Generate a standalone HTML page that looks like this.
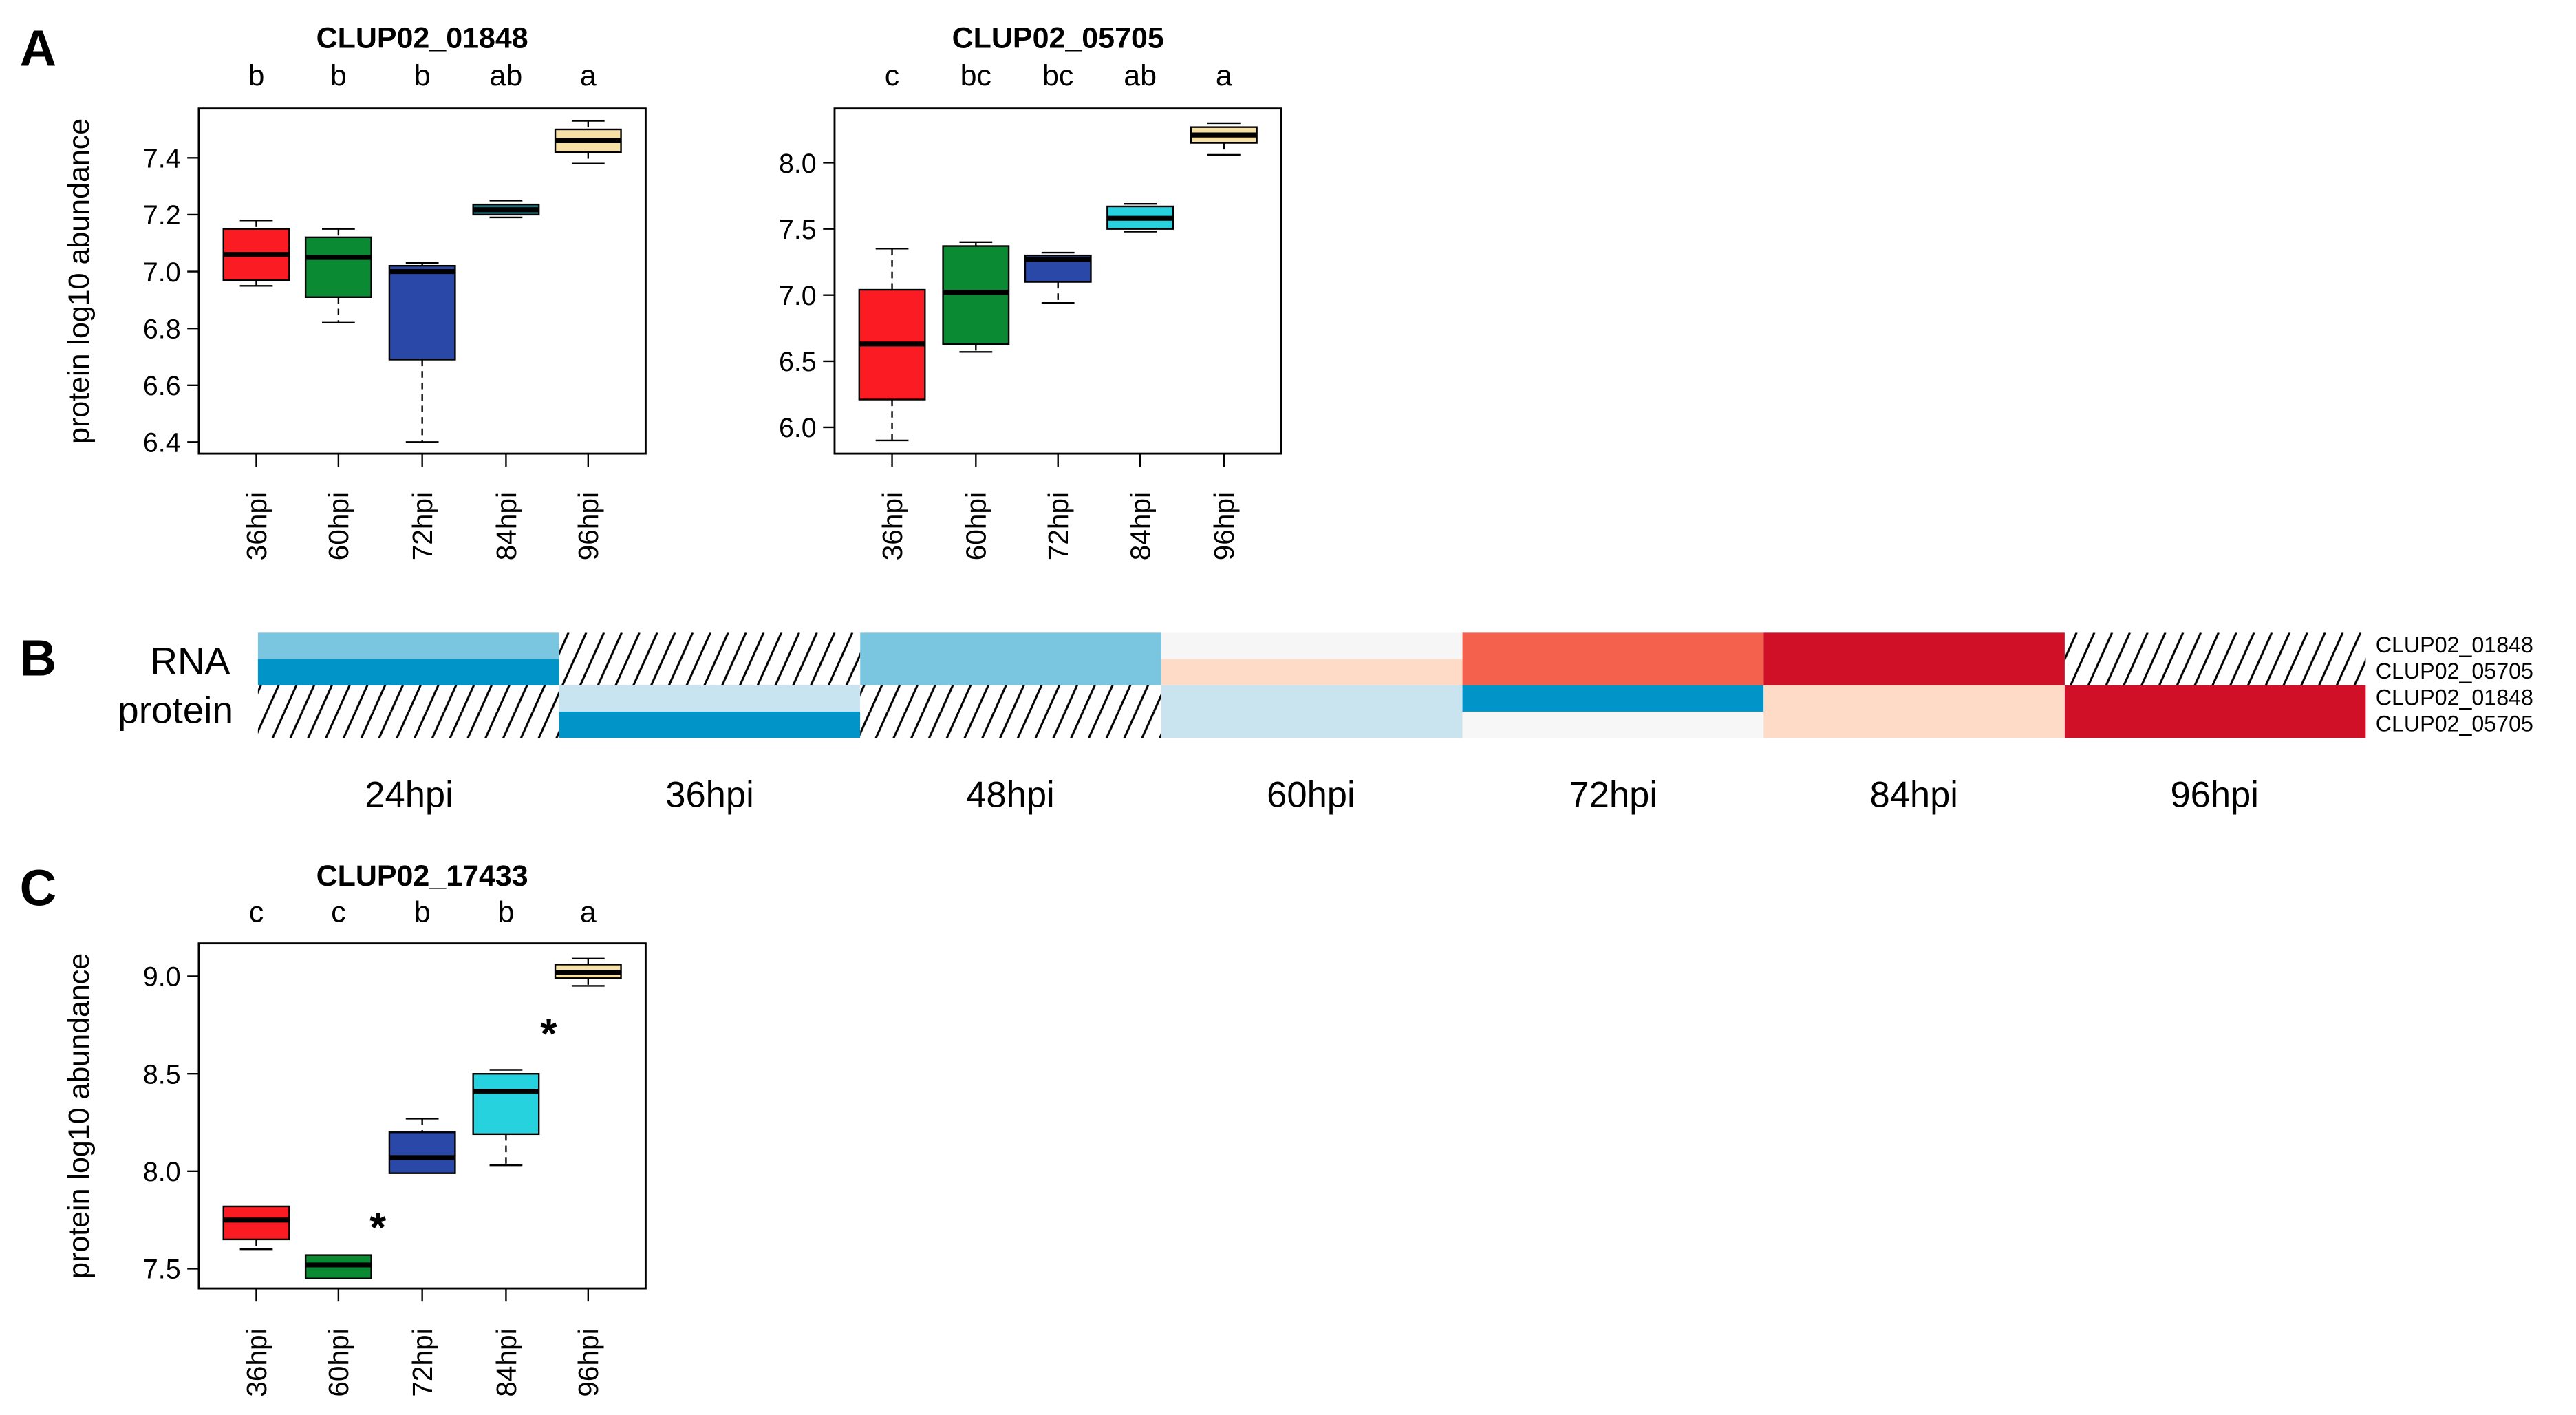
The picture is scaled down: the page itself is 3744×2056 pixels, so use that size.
<!DOCTYPE html>
<html><head><meta charset="utf-8"><style>
html,body{margin:0;padding:0;background:#fff;}
svg{display:block;}
text{font-family:"Liberation Sans",Arial,sans-serif;fill:#000;}
</style></head><body>
<svg width="3744" height="2056" viewBox="0 0 1568 861" xmlns="http://www.w3.org/2000/svg">
<defs>
<pattern id="h" patternUnits="userSpaceOnUse" width="10.8" height="24" x="157" y="385">
<rect width="10.8" height="24" fill="#fff"/>
<line x1="-5.4" y1="24" x2="5.4" y2="0" stroke="#000" stroke-width="1.3"/>
<line x1="5.4" y1="24" x2="16.2" y2="0" stroke="#000" stroke-width="1.3"/>
</pattern>
</defs>

<text x="12" y="40" font-size="31" font-weight="bold">A</text>
<text x="12" y="411" font-size="31" font-weight="bold">B</text>
<text x="12" y="551" font-size="31" font-weight="bold">C</text>

<!-- ===== Plot A1 ===== -->
<g>
<text x="257" y="29" font-size="18" font-weight="bold" text-anchor="middle">CLUP02_01848</text>
<g font-size="18" text-anchor="middle">
<text x="156" y="52">b</text><text x="206" y="52">b</text><text x="257" y="52">b</text><text x="308" y="52">ab</text><text x="358" y="52">a</text>
</g>
<text transform="translate(54,171) rotate(-90)" font-size="18" text-anchor="middle">protein log10 abundance</text>
<g font-size="16.5" text-anchor="end">
<text x="110" y="102">7.4</text><text x="110" y="136.6">7.2</text><text x="110" y="171.2">7.0</text><text x="110" y="205.8">6.8</text><text x="110" y="240.4">6.6</text><text x="110" y="275">6.4</text>
</g>
<g stroke="#000" stroke-width="1">
<line x1="114" y1="96" x2="121" y2="96"/><line x1="114" y1="130.6" x2="121" y2="130.6"/><line x1="114" y1="165.2" x2="121" y2="165.2"/><line x1="114" y1="199.8" x2="121" y2="199.8"/><line x1="114" y1="234.4" x2="121" y2="234.4"/><line x1="114" y1="269" x2="121" y2="269"/>
<line x1="156" y1="276" x2="156" y2="284"/><line x1="206" y1="276" x2="206" y2="284"/><line x1="257" y1="276" x2="257" y2="284"/><line x1="308" y1="276" x2="308" y2="284"/><line x1="358" y1="276" x2="358" y2="284"/>
</g>
<rect x="121" y="66" width="272" height="210" fill="none" stroke="#000" stroke-width="1.2"/>
<g font-size="17">
<text transform="translate(162,341) rotate(-90)">36hpi</text><text transform="translate(212,341) rotate(-90)">60hpi</text><text transform="translate(263,341) rotate(-90)">72hpi</text><text transform="translate(314,341) rotate(-90)">84hpi</text><text transform="translate(364,341) rotate(-90)">96hpi</text>
</g>
<g stroke="#000" stroke-width="1">
<line x1="156" y1="134.1" x2="156" y2="139.3" stroke-dasharray="4,3"/><line x1="156" y1="170.4" x2="156" y2="173.9" stroke-dasharray="4,3"/>
<line x1="146" y1="134.1" x2="166" y2="134.1"/><line x1="146" y1="173.9" x2="166" y2="173.9"/>
<rect x="136" y="139.3" width="40" height="31.1" fill="#fb1b22"/><line x1="136" y1="154.8" x2="176" y2="154.8" stroke-width="3"/>
<line x1="206" y1="139.3" x2="206" y2="144.4" stroke-dasharray="4,3"/><line x1="206" y1="180.8" x2="206" y2="196.3" stroke-dasharray="4,3"/>
<line x1="196" y1="139.3" x2="216" y2="139.3"/><line x1="196" y1="196.3" x2="216" y2="196.3"/>
<rect x="186" y="144.4" width="40" height="36.4" fill="#0a8a32"/><line x1="186" y1="156.6" x2="226" y2="156.6" stroke-width="3"/>
<line x1="257" y1="160" x2="257" y2="161.7" stroke-dasharray="4,3"/><line x1="257" y1="218.8" x2="257" y2="269" stroke-dasharray="4,3"/>
<line x1="247" y1="160" x2="267" y2="160"/><line x1="247" y1="269" x2="267" y2="269"/>
<rect x="237" y="161.7" width="40" height="57.1" fill="#2a48a8"/><line x1="237" y1="165.2" x2="277" y2="165.2" stroke-width="3"/>
<line x1="298" y1="122" x2="318" y2="122"/><line x1="298" y1="132.3" x2="318" y2="132.3"/>
<rect x="288" y="124.4" width="40" height="6.2" fill="#1d6f78"/><line x1="288" y1="127.6" x2="328" y2="127.6" stroke-width="3"/>
<line x1="358" y1="73.5" x2="358" y2="78.7" stroke-dasharray="4,3"/><line x1="358" y1="92.5" x2="358" y2="99.5" stroke-dasharray="4,3"/>
<line x1="348" y1="73.5" x2="368" y2="73.5"/><line x1="348" y1="99.5" x2="368" y2="99.5"/>
<rect x="338" y="78.7" width="40" height="13.8" fill="#f6e0a6"/><line x1="338" y1="85.6" x2="378" y2="85.6" stroke-width="3"/>
</g>
</g>

<!-- ===== Plot A2 ===== -->
<g>
<text x="644" y="29" font-size="18" font-weight="bold" text-anchor="middle">CLUP02_05705</text>
<g font-size="18" text-anchor="middle">
<text x="543" y="52">c</text><text x="594" y="52">bc</text><text x="644" y="52">bc</text><text x="694" y="52">ab</text><text x="745" y="52">a</text>
</g>
<g font-size="16.5" text-anchor="end">
<text x="497" y="105">8.0</text><text x="497" y="145.3">7.5</text><text x="497" y="185.5">7.0</text><text x="497" y="225.8">6.5</text><text x="497" y="266">6.0</text>
</g>
<g stroke="#000" stroke-width="1">
<line x1="501" y1="99" x2="508" y2="99"/><line x1="501" y1="139.3" x2="508" y2="139.3"/><line x1="501" y1="179.5" x2="508" y2="179.5"/><line x1="501" y1="219.8" x2="508" y2="219.8"/><line x1="501" y1="260" x2="508" y2="260"/>
<line x1="543" y1="276" x2="543" y2="284"/><line x1="594" y1="276" x2="594" y2="284"/><line x1="644" y1="276" x2="644" y2="284"/><line x1="694" y1="276" x2="694" y2="284"/><line x1="745" y1="276" x2="745" y2="284"/>
</g>
<rect x="508" y="66" width="272" height="210" fill="none" stroke="#000" stroke-width="1.2"/>
<g font-size="17">
<text transform="translate(549,341) rotate(-90)">36hpi</text><text transform="translate(600,341) rotate(-90)">60hpi</text><text transform="translate(650,341) rotate(-90)">72hpi</text><text transform="translate(700,341) rotate(-90)">84hpi</text><text transform="translate(751,341) rotate(-90)">96hpi</text>
</g>
<g stroke="#000" stroke-width="1">
<line x1="543" y1="151.3" x2="543" y2="176.3" stroke-dasharray="4,3"/><line x1="543" y1="243.1" x2="543" y2="268" stroke-dasharray="4,3"/>
<line x1="533" y1="151.3" x2="553" y2="151.3"/><line x1="533" y1="268" x2="553" y2="268"/>
<rect x="523" y="176.3" width="40" height="66.8" fill="#fb1b22"/><line x1="523" y1="209.3" x2="563" y2="209.3" stroke-width="3"/>
<line x1="594" y1="147.3" x2="594" y2="149.7" stroke-dasharray="4,3"/><line x1="594" y1="209.3" x2="594" y2="214.1" stroke-dasharray="4,3"/>
<line x1="584" y1="147.3" x2="604" y2="147.3"/><line x1="584" y1="214.1" x2="604" y2="214.1"/>
<rect x="574" y="149.7" width="40" height="59.6" fill="#0a8a32"/><line x1="574" y1="177.9" x2="614" y2="177.9" stroke-width="3"/>
<line x1="644" y1="171.5" x2="644" y2="184.3" stroke-dasharray="4,3"/>
<line x1="634" y1="153.7" x2="654" y2="153.7"/><line x1="634" y1="184.3" x2="654" y2="184.3"/>
<rect x="624" y="155.4" width="40" height="16.1" fill="#2a48a8"/><line x1="624" y1="157.8" x2="664" y2="157.8" stroke-width="3"/>
<line x1="684" y1="124" x2="704" y2="124"/><line x1="684" y1="140.9" x2="704" y2="140.9"/>
<rect x="674" y="125.6" width="40" height="13.7" fill="#26d2de"/><line x1="674" y1="132.8" x2="714" y2="132.8" stroke-width="3"/>
<line x1="745" y1="86.9" x2="745" y2="94.2" stroke-dasharray="4,3"/>
<line x1="735" y1="74.9" x2="755" y2="74.9"/><line x1="735" y1="94.2" x2="755" y2="94.2"/>
<rect x="725" y="77.3" width="40" height="9.6" fill="#f6e0a6"/><line x1="725" y1="82.1" x2="765" y2="82.1" stroke-width="3"/>
</g>
</g>

<!-- ===== Panel B heatmap ===== -->
<g>
<text x="140" y="410" font-size="23" text-anchor="end">RNA</text>
<text x="142" y="440" font-size="23" text-anchor="end">protein</text>
<rect x="157" y="385" width="183.3" height="16" fill="#7ac6e0"/>
<rect x="157" y="401" width="183.3" height="16" fill="#0094c8"/>
<rect x="157" y="417" width="183.3" height="32" fill="url(#h)"/>
<rect x="340.3" y="385" width="183.3" height="32" fill="url(#h)"/>
<rect x="340.3" y="417" width="183.3" height="16" fill="#c8e4f0"/>
<rect x="340.3" y="433" width="183.3" height="16" fill="#0094c8"/>
<rect x="523.6" y="385" width="183.3" height="32" fill="#7ac6e0"/>
<rect x="523.6" y="417" width="183.3" height="32" fill="url(#h)"/>
<rect x="706.9" y="385" width="183.3" height="16" fill="#f6f6f6"/>
<rect x="706.9" y="401" width="183.3" height="16" fill="#fddbc7"/>
<rect x="706.9" y="417" width="183.3" height="32" fill="#c9e4ef"/>
<rect x="890.2" y="385" width="183.3" height="32" fill="#f4624e"/>
<rect x="890.2" y="417" width="183.3" height="16" fill="#0094c8"/>
<rect x="890.2" y="433" width="183.3" height="16" fill="#f7f7f7"/>
<rect x="1073.5" y="385" width="183.3" height="32" fill="#cf1027"/>
<rect x="1073.5" y="417" width="183.3" height="32" fill="#fddbc7"/>
<rect x="1256.8" y="385" width="183.2" height="32" fill="url(#h)"/>
<rect x="1256.8" y="417" width="183.2" height="32" fill="#cf1027"/>
<g font-size="13.5">
<text x="1446" y="397">CLUP02_01848</text><text x="1446" y="413">CLUP02_05705</text><text x="1446" y="429">CLUP02_01848</text><text x="1446" y="445">CLUP02_05705</text>
</g>
<g font-size="22" text-anchor="middle">
<text x="249" y="491">24hpi</text><text x="432" y="491">36hpi</text><text x="615" y="491">48hpi</text><text x="798" y="491">60hpi</text><text x="982" y="491">72hpi</text><text x="1165" y="491">84hpi</text><text x="1348" y="491">96hpi</text>
</g>
</g>

<!-- ===== Plot C ===== -->
<g>
<text x="257" y="539" font-size="18" font-weight="bold" text-anchor="middle">CLUP02_17433</text>
<g font-size="18" text-anchor="middle">
<text x="156" y="561">c</text><text x="206" y="561">c</text><text x="257" y="561">b</text><text x="308" y="561">b</text><text x="358" y="561">a</text>
</g>
<text transform="translate(54,679) rotate(-90)" font-size="18" text-anchor="middle">protein log10 abundance</text>
<g font-size="16.5" text-anchor="end">
<text x="110" y="600">9.0</text><text x="110" y="659.4">8.5</text><text x="110" y="718.7">8.0</text><text x="110" y="778">7.5</text>
</g>
<g stroke="#000" stroke-width="1">
<line x1="114" y1="594" x2="121" y2="594"/><line x1="114" y1="653.4" x2="121" y2="653.4"/><line x1="114" y1="712.7" x2="121" y2="712.7"/><line x1="114" y1="772" x2="121" y2="772"/>
<line x1="156" y1="784" x2="156" y2="792"/><line x1="206" y1="784" x2="206" y2="792"/><line x1="257" y1="784" x2="257" y2="792"/><line x1="308" y1="784" x2="308" y2="792"/><line x1="358" y1="784" x2="358" y2="792"/>
</g>
<rect x="121" y="574" width="272" height="210" fill="none" stroke="#000" stroke-width="1.2"/>
<g font-size="17">
<text transform="translate(162,850) rotate(-90)">36hpi</text><text transform="translate(212,850) rotate(-90)">60hpi</text><text transform="translate(263,850) rotate(-90)">72hpi</text><text transform="translate(314,850) rotate(-90)">84hpi</text><text transform="translate(364,850) rotate(-90)">96hpi</text>
</g>
<g stroke="#000" stroke-width="1">
<line x1="156" y1="754.2" x2="156" y2="760.2" stroke-dasharray="4,3"/>
<line x1="146" y1="760.2" x2="166" y2="760.2"/>
<rect x="136" y="734.1" width="40" height="20.1" fill="#fb1b22"/><line x1="136" y1="742.4" x2="176" y2="742.4" stroke-width="3"/>
<rect x="186" y="763.7" width="40" height="14.3" fill="#0a8a32"/><line x1="186" y1="769.7" x2="226" y2="769.7" stroke-width="3"/>
<line x1="257" y1="680.7" x2="257" y2="689" stroke-dasharray="4,3"/>
<line x1="247" y1="680.7" x2="267" y2="680.7"/>
<rect x="237" y="689" width="40" height="24.9" fill="#2a48a8"/><line x1="237" y1="704.4" x2="277" y2="704.4" stroke-width="3"/>
<line x1="308" y1="690.1" x2="308" y2="709.1" stroke-dasharray="4,3"/>
<line x1="298" y1="651" x2="318" y2="651"/><line x1="298" y1="709.1" x2="318" y2="709.1"/>
<rect x="288" y="653.4" width="40" height="36.7" fill="#26d2de"/><line x1="288" y1="664" x2="328" y2="664" stroke-width="3"/>
<line x1="358" y1="583.3" x2="358" y2="586.9" stroke-dasharray="4,3"/><line x1="358" y1="595.2" x2="358" y2="599.9" stroke-dasharray="4,3"/>
<line x1="348" y1="583.3" x2="368" y2="583.3"/><line x1="348" y1="599.9" x2="368" y2="599.9"/>
<rect x="338" y="586.9" width="40" height="8.3" fill="#f6e0a6"/><line x1="338" y1="591.6" x2="378" y2="591.6" stroke-width="3"/>
</g>
<text x="230" y="756" font-size="26" font-weight="bold" text-anchor="middle">*</text>
<text x="334" y="638" font-size="26" font-weight="bold" text-anchor="middle">*</text>
</g>
</svg>
</body></html>
